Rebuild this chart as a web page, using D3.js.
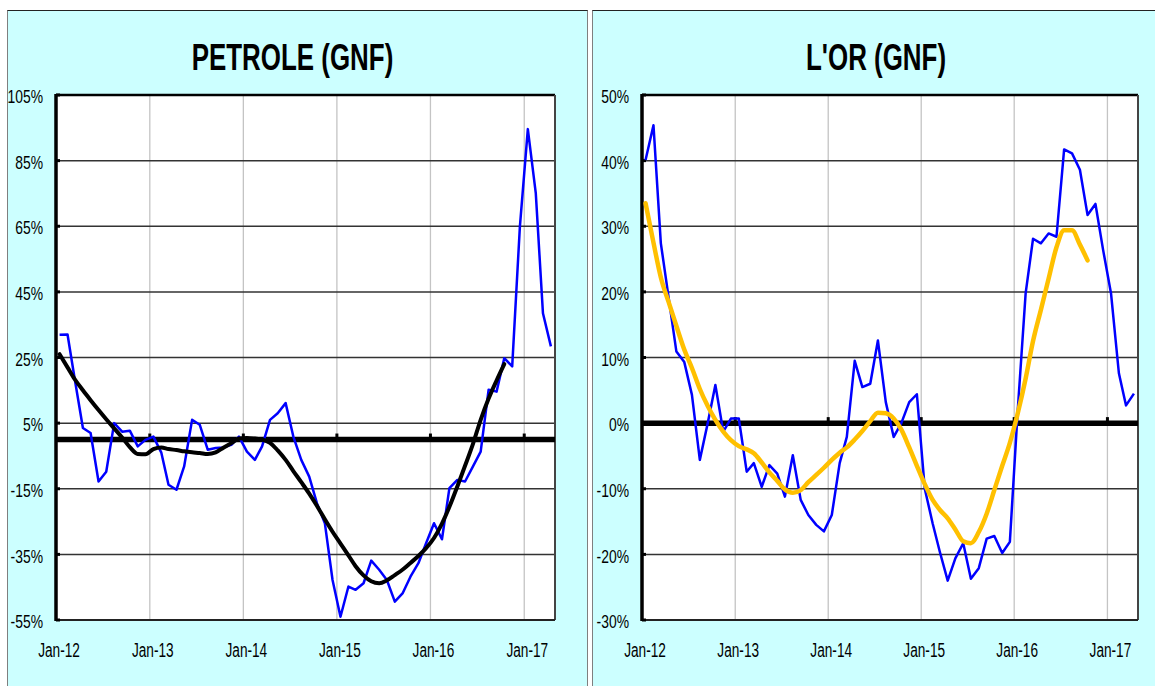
<!DOCTYPE html>
<html lang="fr">
<head>
<meta charset="UTF-8">
<title>PETROLE / L'OR (GNF)</title>
<script src="https://d3js.org/d3.v7.min.js"></script>
<style>
  body { margin: 0; background: #fff; }
  text { font-family: "Liberation Sans", Arial, sans-serif; fill: #000; }
  .title { font-weight: bold; font-size: 36px; text-anchor: middle; }
  .ylab { font-size: 18.5px; text-anchor: end; }
  .xlab { font-size: 19.5px; text-anchor: middle; }
</style>
</head>
<body>
<div id="chart"></div>
<script>
// monthly year-on-year change, Jan-12 .. Apr-17 (%)
const petroleActual = [31.9, 32, 18, 3.5, 2, -12.8, -9.8, 5, 2.4, 2.7, -2.1, -0.1,
  0.9, -4, -13.8, -15.3, -8.2, 6, 4.5, -3.1, -2.6, -2.4, -1.6, 0.9,
  -3.7, -6.2, -2.1, 6, 8, 11.1, 0.9, -6.2, -11.3, -19.4, -25.5, -42.8,
  -54, -44.8, -45.8, -43.8, -36.9, -39.7, -42.8, -49.4, -46.8, -41.8, -37.7, -31.6,
  -25.5, -30.4, -14.8, -12.3, -12.8, -8.2, -3.7, 15.2, 14.6, 24.8, 22.3, 64.9,
  94.6, 75.1, 38.5, 28.4];
const petroleTrend = [26, 22, 18.3, 15, 12, 9, 6.2, 3.4, 0.6, -2.3, -4.4, -4.5,
  -2.9, -2.4, -2.9, -3.2, -3.6, -3.9, -4.1, -4.4, -3.9, -2.5, -1.1, 0.3,
  0.5, 0.3, 0, -1, -3.3, -6.2, -9.6, -13, -16.5, -20.2, -24.3, -28.1,
  -31.7, -35.3, -38.6, -41.4, -43.2, -43.8, -42.9, -41.3, -39.6, -37.6, -35.5, -33.1,
  -30, -25.6, -20.5, -14.3, -8, -1.3, 6, 12.5, 18, 23];
const orActual = [40.1, 45.4, 27.4, 19, 10.9, 9.3, 4.3, -5.6, 0, 5.8, -1.3, 0.7,
  0.7, -7.4, -6.1, -9.7, -6.4, -7.7, -11.2, -4.9, -11.7, -14, -15.5, -16.5,
  -14, -6.1, -2.1, 9.5, 5.5, 6, 12.6, 3.2, -2.1, 0, 3.2, 4.4,
  -10, -15.3, -19.6, -24, -20.6, -18.3, -23.7, -22.1, -17.6, -17.2, -19.8, -18.1,
  2, 19.8, 28.1, 27.4, 28.9, 28.4, 41.7, 41.1, 38.6, 31.7, 33.4, 26.4,
  19.8, 7.6, 2.7, 4.5];
const orTrend = [33.5, 27.5, 22.2, 18.4, 14.8, 11.2, 8.4, 5.2, 2.6, 0.5, -1.3, -2.6,
  -3.5, -4, -4.6, -6, -7.5, -8.8, -10.1, -10.6, -10.2, -9, -7.9, -6.8,
  -5.6, -4.5, -3.7, -2.5, -1.2, 0.3, 1.6, 1.5, 0.7, -1, -3.7, -6.5,
  -9.3, -11.7, -13.2, -14.5, -16.2, -18, -18.3, -16.6, -13.8, -10.2, -6.5, -3,
  1.5, 6.8, 12.5, 17.3, 22, 26.8, 29.4, 29.4, 27.2, 24.8];

const yearTicks = ["Jan-12", "Jan-13", "Jan-14", "Jan-15", "Jan-16", "Jan-17"];
const petroleYTicks = [105, 85, 65, 45, 25, 5, -15, -35, -55];
const orYTicks = [50, 40, 30, 20, 10, 0, -10, -20, -30];

const W = 1155, H = 686;
const svg = d3.select("#chart").append("svg").attr("width", W).attr("height", H);

const monthDate = i => new Date(2012, i, 15);
const yearDate = i => new Date(2012 + i, 0, 1);

// squeeze text horizontally to mimic a narrow face
function narrow(sel, factor) {
  sel.each(function() {
    const len = this.getComputedTextLength();
    d3.select(this).attr("textLength", len * factor).attr("lengthAdjust", "spacingAndGlyphs");
  });
}

function drawPanel(cfg) {
  const g = svg.append("g");
  g.append("rect")
    .attr("x", cfg.px).attr("y", 10.5).attr("width", cfg.pw).attr("height", H)
    .attr("fill", "#ccffff").attr("stroke", "#7f7f7f").attr("stroke-width", 1);
  g.append("line").attr("x1", cfg.px).attr("x2", cfg.px + cfg.pw)
    .attr("y1", 10.5).attr("y2", 10.5).attr("stroke", "#222").attr("stroke-width", 1.2);

  g.append("text").attr("class", "title")
    .attr("x", cfg.titleX).attr("y", 69.5).text(cfg.title)
    .call(narrow, 0.72);

  const x = d3.scaleTime()
    .domain([new Date(2012, 0, 1), new Date(2017, 4, 1)])
    .range([cfg.left, cfg.right]);
  const y = d3.scaleLinear()
    .domain([cfg.yTicks[cfg.yTicks.length - 1], cfg.yTicks[0]])
    .range([620, 95]);

  g.append("rect").attr("x", cfg.left).attr("y", 95)
    .attr("width", cfg.right - cfg.left).attr("height", 525).attr("fill", "#fff");

  // vertical gridlines
  g.selectAll(".vgrid").data(yearTicks.slice(1)).enter().append("line")
    .attr("x1", (d, i) => x(yearDate(i + 1))).attr("x2", (d, i) => x(yearDate(i + 1)))
    .attr("y1", 95).attr("y2", 620)
    .attr("stroke", "#c4c4c4").attr("stroke-width", 1.3);

  // horizontal gridlines
  g.selectAll(".hgrid").data(cfg.yTicks).enter().append("line")
    .attr("x1", cfg.left).attr("x2", cfg.right)
    .attr("y1", d => y(d)).attr("y2", d => y(d))
    .attr("stroke", "#333").attr("stroke-width", 1.5);

  // top / right / bottom border
  g.append("line").attr("x1", cfg.left).attr("x2", cfg.right).attr("y1", 95).attr("y2", 95)
    .attr("stroke", "#000").attr("stroke-width", 2.5);
  g.append("line").attr("x1", cfg.right).attr("x2", cfg.right).attr("y1", 95).attr("y2", 620)
    .attr("stroke", "#444").attr("stroke-width", 2);
  g.append("line").attr("x1", cfg.left).attr("x2", cfg.right).attr("y1", 620).attr("y2", 620)
    .attr("stroke", "#222").attr("stroke-width", 2);

  // zero line with year ticks
  g.append("line").attr("x1", cfg.left).attr("x2", cfg.right)
    .attr("y1", y(0)).attr("y2", y(0))
    .attr("stroke", "#000").attr("stroke-width", 5.5);
  g.selectAll(".zt").data(yearTicks.slice(1)).enter().append("line")
    .attr("x1", (d, i) => x(yearDate(i + 1))).attr("x2", (d, i) => x(yearDate(i + 1)))
    .attr("y1", y(0)).attr("y2", y(0) - 6)
    .attr("stroke", "#000").attr("stroke-width", 3);

  // y axis
  g.append("line").attr("x1", cfg.left).attr("x2", cfg.left).attr("y1", 94).attr("y2", 621)
    .attr("stroke", "#000").attr("stroke-width", 3.5);
  g.selectAll(".yt").data(cfg.yTicks).enter().append("line")
    .attr("x1", cfg.left).attr("x2", cfg.left + 4)
    .attr("y1", d => y(d)).attr("y2", d => y(d))
    .attr("stroke", "#000").attr("stroke-width", 3);
  g.selectAll(".ylab").data(cfg.yTicks).enter().append("text")
    .attr("class", "ylab")
    .attr("x", cfg.left - 13).attr("y", d => y(d) + 1.5).attr("dy", "0.36em")
    .text(d => d + "%")
    .call(narrow, 0.75);

  // x labels
  g.selectAll(".xlab").data(yearTicks).enter().append("text")
    .attr("class", "xlab")
    .attr("x", (d, i) => x(yearDate(i)) + 3).attr("y", 657)
    .text(d => d)
    .call(narrow, 0.7);

  const line = d3.line()
    .x((d, i) => x(monthDate(i)))
    .y(d => y(d));
  const smooth = d3.line()
    .x((d, i) => x(monthDate(i)))
    .y(d => y(d))
    .curve(d3.curveMonotoneX);

  g.append("path").datum(cfg.actual)
    .attr("d", line).attr("fill", "none")
    .attr("stroke", "#0000ff").attr("stroke-width", 2.5).attr("stroke-linejoin", "round");
  g.append("path").datum(cfg.trend)
    .attr("d", smooth).attr("fill", "none")
    .attr("stroke", cfg.trendColor).attr("stroke-width", cfg.trendWidth)
    .attr("stroke-linecap", "round");
}

drawPanel({
  title: "PETROLE (GNF)", titleX: 292.5, px: 7.5, pw: 580,
  left: 56, right: 555, yTicks: petroleYTicks,
  actual: petroleActual, trend: petroleTrend, trendColor: "#000", trendWidth: 4
});
drawPanel({
  title: "L'OR (GNF)", titleX: 876, px: 592.5, pw: 570,
  left: 642, right: 1138, yTicks: orYTicks,
  actual: orActual, trend: orTrend, trendColor: "#ffc000", trendWidth: 4.5
});
</script>
</body>
</html>
